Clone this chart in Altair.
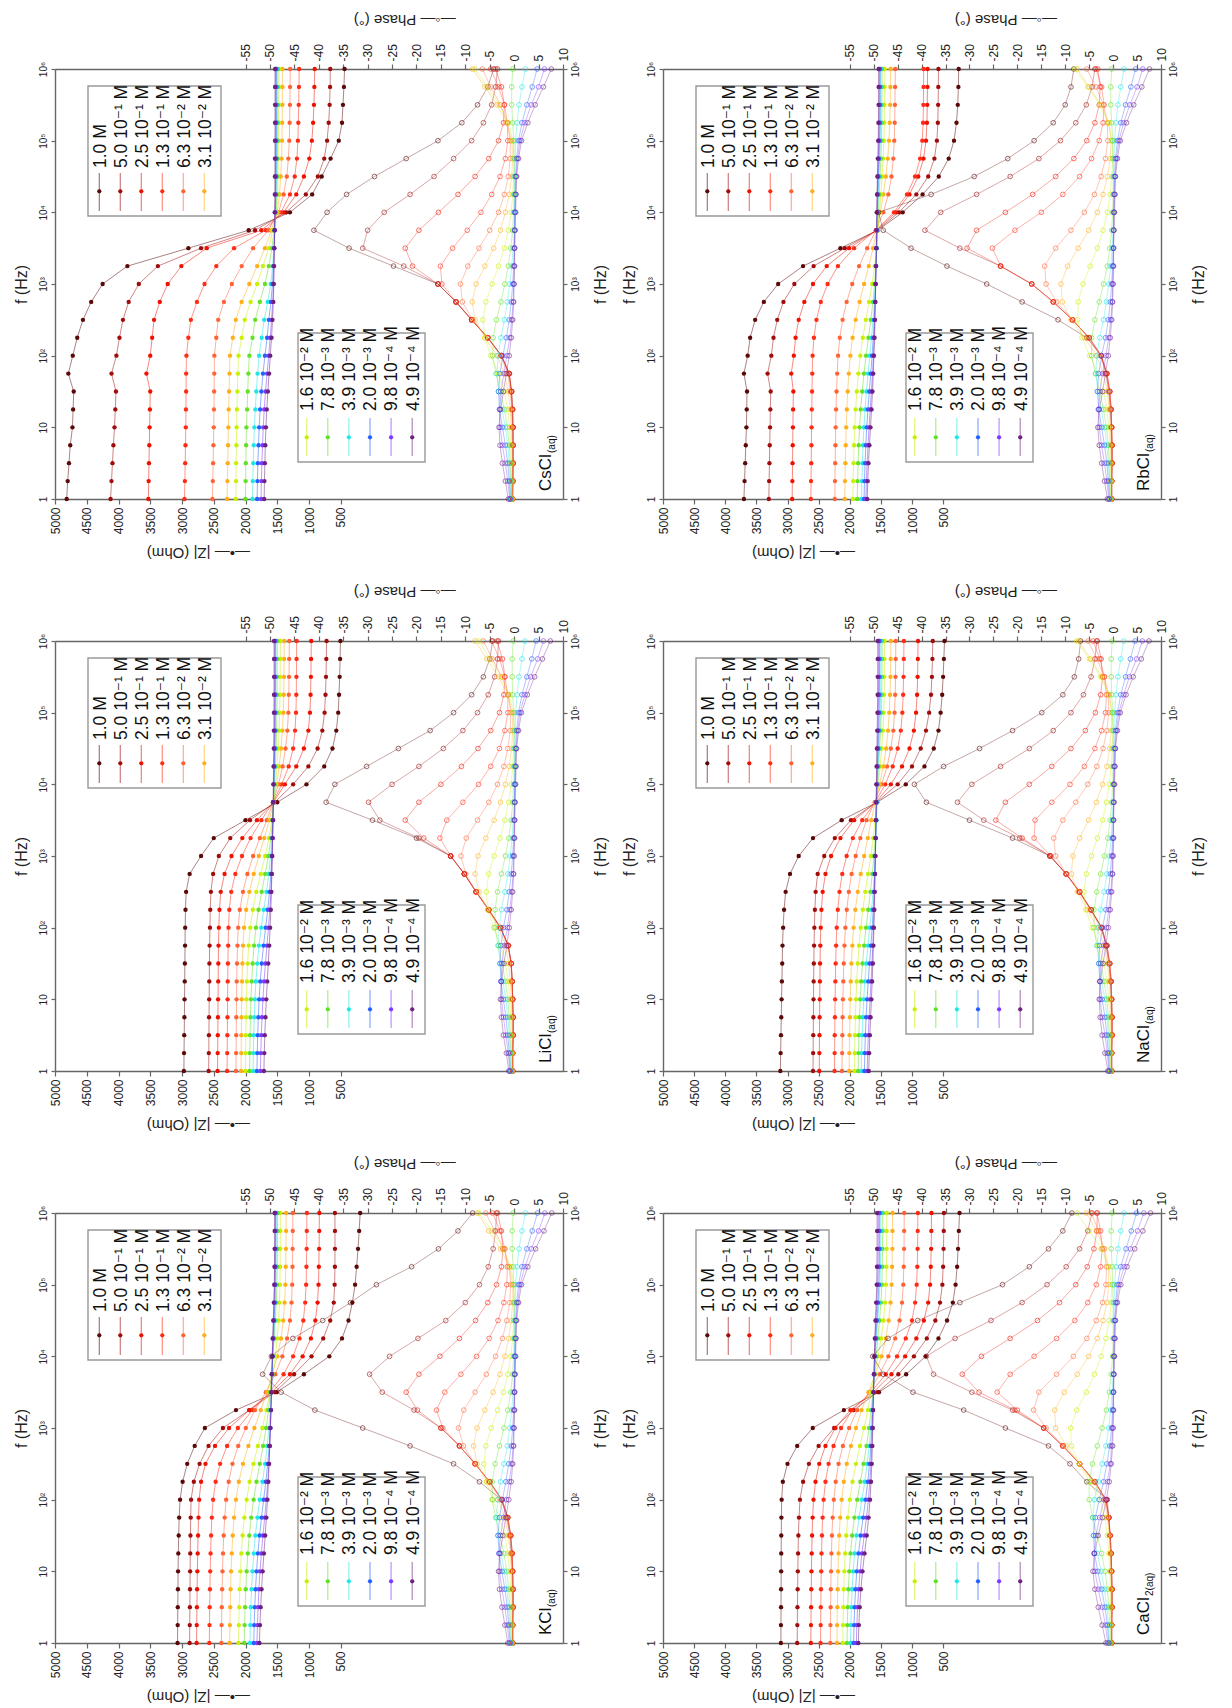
import altair as alt
import pandas as pd

FONT = "Liberation Sans, Arial, DejaVu Sans, sans-serif"

FREQ = [1, 1.778, 3.162, 5.623, 10, 17.78, 31.62, 56.23, 100, 177.8, 316.2, 562.3,
        1000, 1778, 3162, 5623, 10000, 17783, 31623, 56234, 100000, 177828, 316228, 562341, 1000000]

CONC = ["1.0 M", "5.0 10⁻¹ M", "2.5 10⁻¹ M", "1.3 10⁻¹ M", "6.3 10⁻² M", "3.1 10⁻² M",
        "1.6 10⁻² M", "7.8 10⁻³ M", "3.9 10⁻³ M", "2.0 10⁻³ M", "9.8 10⁻⁴ M", "4.9 10⁻⁴ M"]

COLORS = ["#5a0808", "#a00c0c", "#ee1100", "#ff2b14", "#ff6235", "#ffae1a",
          "#c8f000", "#62e022", "#22e6e6", "#2460ff", "#8038ff", "#6c2080"]

# ---------------- CsCl ----------------
CSCL_Z = [
    [4816, 4800, 4780, 4760, 4725, 4715, 4705, 4790, 4720, 4650, 4560, 4430, 4250, 3860, 2900, 1950, 1300, 950, 800, 660, 531, 480, 465, 450, 440],
    [4125, 4110, 4095, 4080, 4063, 4050, 4040, 4110, 4033, 3985, 3930, 3840, 3680, 3380, 2700, 1850, 1360, 1050, 860, 760, 715, 690, 675, 668, 665],
    [3530, 3525, 3520, 3515, 3510, 3505, 3500, 3560, 3500, 3470, 3440, 3350, 3225, 3010, 2610, 1750, 1400, 1200, 1080, 995, 955, 935, 922, 915, 910],
    [2961, 2955, 2950, 2945, 2940, 2938, 2935, 2935, 2930, 2900, 2860, 2765, 2645, 2460, 2180, 1680, 1440, 1300, 1225, 1190, 1175, 1168, 1162, 1158, 1155],
    [2521, 2515, 2510, 2505, 2500, 2497, 2494, 2492, 2490, 2460, 2430, 2340, 2215, 2060, 1880, 1640, 1480, 1400, 1350, 1325, 1310, 1305, 1300, 1298, 1296],
    [2290, 2285, 2280, 2275, 2270, 2265, 2258, 2252, 2245, 2200, 2153, 2061, 1940, 1817, 1694, 1590, 1500, 1465, 1445, 1432, 1425, 1422, 1420, 1419, 1418],
    [2153, 2150, 2147, 2143, 2140, 2135, 2128, 2120, 2110, 2060, 2012, 1920, 1817, 1725, 1633, 1572, 1510, 1495, 1488, 1484, 1480, 1477, 1475, 1472, 1470],
    [2000, 1998, 1995, 1990, 1985, 1975, 1965, 1955, 1939, 1890, 1847, 1774, 1694, 1633, 1584, 1550, 1520, 1508, 1502, 1498, 1495, 1493, 1492, 1491, 1490],
    [1890, 1885, 1878, 1870, 1860, 1845, 1830, 1810, 1786, 1745, 1706, 1651, 1602, 1572, 1555, 1540, 1528, 1520, 1515, 1512, 1510, 1508, 1507, 1506, 1505],
    [1817, 1812, 1805, 1795, 1785, 1770, 1750, 1725, 1694, 1660, 1633, 1600, 1575, 1560, 1550, 1540, 1532, 1525, 1520, 1518, 1517, 1516, 1515, 1515, 1515],
    [1755, 1750, 1742, 1732, 1720, 1705, 1685, 1660, 1635, 1610, 1590, 1572, 1560, 1552, 1546, 1540, 1535, 1530, 1528, 1527, 1526, 1525, 1525, 1525, 1525],
    [1706, 1702, 1695, 1688, 1678, 1665, 1648, 1628, 1610, 1590, 1575, 1562, 1555, 1550, 1546, 1542, 1540, 1538, 1537, 1536, 1536, 1535, 1535, 1535, 1535],
]
CSCL_PH = [
    [-0.5, -0.4, -0.3, -0.3, -0.3, -0.4, -0.6, -1.0, -2.6, -5.4, -8.7, -11.9, -15.6, -24.7, -33.8, -41.0, -38.3, -34.3, -28.6, -22.1, -15.6, -10.7, -7.5, -5.4, -4.2],
    [-0.4, -0.3, -0.2, -0.2, -0.2, -0.3, -0.5, -1.0, -2.6, -5.4, -8.7, -11.9, -15.6, -22.6, -31.0, -30.0, -26.6, -21.3, -16.4, -12.4, -8.7, -6.3, -4.6, -3.8, -3.4],
    [-0.3, -0.2, -0.2, -0.2, -0.2, -0.3, -0.5, -1.0, -2.6, -5.4, -8.7, -11.9, -15.6, -20.8, -22.3, -19.5, -15.5, -11.5, -8.0, -5.2, -3.2, -2.2, -2.0, -2.6, -3.8],
    [-0.3, -0.2, -0.2, -0.2, -0.3, -0.4, -0.6, -1.1, -2.6, -5.4, -8.7, -11.9, -14.8, -15.1, -12.6, -9.6, -6.8, -4.6, -2.9, -1.8, -1.3, -1.4, -2.0, -3.2, -4.8],
    [-0.3, -0.3, -0.3, -0.3, -0.4, -0.5, -0.8, -1.3, -2.8, -5.5, -8.5, -10.6, -11.0, -9.5, -7.2, -5.0, -3.2, -2.0, -1.2, -0.8, -0.8, -1.4, -2.8, -4.8, -6.5],
    [-0.4, -0.4, -0.4, -0.5, -0.6, -0.8, -1.2, -2.0, -3.5, -6.0, -8.0, -8.6, -7.8, -6.0, -4.2, -2.8, -1.8, -1.0, -0.5, -0.3, -0.5, -1.5, -3.5, -6.0, -8.5],
    [-0.5, -0.5, -0.6, -0.7, -0.9, -1.3, -2.0, -3.2, -4.8, -6.0, -6.4, -5.8, -4.5, -3.2, -2.0, -1.2, -0.6, -0.3, -0.1, 0.0, -0.3, -1.2, -3.0, -5.5, -8.0],
    [-0.6, -0.7, -0.8, -1.0, -1.4, -2.0, -2.8, -3.7, -4.4, -4.3, -3.6, -2.7, -1.9, -1.2, -0.7, -0.3, -0.1, 0.0, 0.0, 0.0, -0.1, -0.3, -0.5, -0.5, -0.3],
    [-0.7, -0.8, -1.0, -1.3, -1.8, -2.5, -3.2, -3.5, -3.3, -2.7, -2.0, -1.4, -0.9, -0.5, -0.2, 0.0, 0.1, 0.1, 0.1, 0.2, 0.3, 0.6, 1.0, 1.6, 2.3],
    [-0.8, -1.0, -1.3, -1.8, -2.4, -3.0, -3.2, -2.9, -2.3, -1.6, -1.0, -0.6, -0.3, -0.1, 0.0, 0.1, 0.1, 0.2, 0.3, 0.5, 0.9, 1.6, 2.6, 3.7, 4.7],
    [-0.9, -1.3, -1.8, -2.4, -2.9, -3.0, -2.7, -2.1, -1.5, -0.9, -0.5, -0.2, -0.1, 0.0, 0.1, 0.1, 0.2, 0.3, 0.4, 0.7, 1.2, 2.2, 3.5, 5.0, 6.2],
    [-1.2, -1.8, -2.4, -2.9, -3.1, -2.8, -2.2, -1.6, -1.0, -0.6, -0.3, -0.1, 0.0, 0.1, 0.1, 0.2, 0.3, 0.4, 0.5, 0.9, 1.5, 2.8, 4.3, 6.0, 7.6],
]

# ---------------- RbCl ----------------
RBCL_Z = [
    [3700, 3690, 3680, 3670, 3660, 3655, 3650, 3700, 3640, 3600, 3520, 3380, 3150, 2750, 2150, 1550, 1150, 830, 570, 410, 325, 285, 265, 255, 250],
    [3300, 3295, 3290, 3285, 3280, 3275, 3270, 3320, 3260, 3225, 3165, 3065, 2890, 2580, 2080, 1560, 1210, 930, 740, 640, 600, 585, 580, 577, 575],
    [2925, 2922, 2919, 2916, 2913, 2910, 2906, 2940, 2898, 2870, 2820, 2730, 2590, 2370, 2010, 1570, 1260, 1040, 900, 815, 775, 760, 755, 752, 750],
    [2625, 2622, 2619, 2616, 2613, 2610, 2606, 2602, 2597, 2575, 2535, 2465, 2355, 2190, 1930, 1580, 1290, 1080, 950, 870, 835, 822, 817, 814, 812],
    [2240, 2237, 2234, 2230, 2226, 2220, 2212, 2202, 2188, 2160, 2115, 2050, 1960, 1850, 1720, 1580, 1460, 1380, 1330, 1300, 1285, 1278, 1274, 1271, 1269],
    [2080, 2076, 2071, 2065, 2057, 2047, 2033, 2015, 1990, 1955, 1905, 1842, 1770, 1695, 1625, 1565, 1510, 1460, 1420, 1390, 1370, 1358, 1351, 1347, 1344],
    [1950, 1945, 1939, 1931, 1920, 1906, 1887, 1862, 1830, 1790, 1742, 1690, 1640, 1600, 1570, 1545, 1522, 1500, 1480, 1463, 1452, 1445, 1441, 1439, 1437],
    [1880, 1874, 1866, 1856, 1842, 1824, 1801, 1772, 1738, 1700, 1662, 1627, 1600, 1580, 1565, 1552, 1540, 1527, 1513, 1500, 1491, 1486, 1483, 1481, 1480],
    [1810, 1804, 1796, 1786, 1772, 1754, 1732, 1706, 1678, 1650, 1625, 1605, 1590, 1578, 1568, 1560, 1552, 1543, 1532, 1520, 1510, 1505, 1502, 1501, 1500],
    [1770, 1763, 1754, 1742, 1727, 1708, 1686, 1663, 1641, 1622, 1607, 1595, 1585, 1577, 1570, 1564, 1557, 1550, 1541, 1531, 1522, 1517, 1514, 1513, 1512],
    [1740, 1732, 1721, 1707, 1690, 1671, 1652, 1635, 1620, 1608, 1598, 1590, 1583, 1577, 1572, 1567, 1562, 1556, 1549, 1541, 1534, 1529, 1527, 1526, 1525],
    [1720, 1711, 1699, 1684, 1667, 1650, 1635, 1622, 1611, 1602, 1595, 1589, 1584, 1579, 1575, 1571, 1567, 1562, 1556, 1549, 1543, 1539, 1537, 1536, 1535],
]
RBCL_PH = [
    [-0.3, -0.3, -0.3, -0.3, -0.4, -0.6, -0.9, -1.5, -2.5, -5.5, -11.5, -19.0, -26.4, -34.7, -42.2, -48.0, -49.0, -38.0, -29.0, -22.0, -16.5, -12.5, -10.0, -8.8, -8.2],
    [-0.3, -0.3, -0.2, -0.2, -0.3, -0.4, -0.7, -1.3, -2.5, -5.0, -8.5, -12.5, -17.0, -23.5, -32.0, -39.3, -36.0, -28.5, -21.5, -15.5, -11.0, -7.8, -5.6, -4.4, -3.8],
    [-0.3, -0.3, -0.2, -0.2, -0.3, -0.4, -0.7, -1.3, -2.5, -5.0, -8.5, -12.5, -17.0, -23.5, -30.5, -28.5, -22.5, -16.8, -12.0, -8.2, -5.5, -3.8, -2.9, -2.7, -3.2],
    [-0.3, -0.3, -0.2, -0.2, -0.3, -0.4, -0.7, -1.3, -2.5, -5.0, -8.5, -12.5, -17.0, -23.5, -25.2, -20.5, -15.0, -10.5, -7.0, -4.5, -2.9, -2.1, -1.9, -2.4, -3.6],
    [-0.3, -0.3, -0.3, -0.3, -0.4, -0.5, -0.8, -1.4, -2.7, -5.2, -8.4, -11.8, -14.0, -14.3, -12.0, -8.8, -6.0, -3.9, -2.5, -1.6, -1.1, -1.2, -2.0, -3.6, -5.5],
    [-0.4, -0.4, -0.4, -0.5, -0.6, -0.8, -1.2, -2.0, -3.5, -6.0, -8.8, -10.6, -10.9, -9.5, -7.3, -5.1, -3.3, -2.1, -1.2, -0.6, -0.4, -0.9, -2.5, -5.0, -7.5],
    [-0.5, -0.5, -0.6, -0.7, -0.9, -1.3, -2.0, -3.2, -4.9, -6.5, -7.4, -7.3, -6.3, -4.8, -3.3, -2.1, -1.2, -0.6, -0.3, -0.1, -0.2, -1.0, -2.8, -5.3, -8.0],
    [-0.6, -0.7, -0.8, -1.0, -1.4, -2.0, -2.8, -3.7, -4.5, -4.5, -3.8, -2.9, -2.0, -1.2, -0.7, -0.3, -0.1, 0.0, 0.0, 0.0, -0.1, -0.3, -0.5, -0.5, -0.3],
    [-0.7, -0.8, -1.0, -1.3, -1.8, -2.5, -3.2, -3.6, -3.4, -2.8, -2.0, -1.4, -0.9, -0.5, -0.2, 0.0, 0.1, 0.1, 0.1, 0.2, 0.3, 0.6, 1.0, 1.6, 2.3],
    [-0.8, -1.0, -1.3, -1.8, -2.4, -3.0, -3.3, -3.0, -2.4, -1.6, -1.0, -0.6, -0.3, -0.1, 0.0, 0.1, 0.1, 0.2, 0.3, 0.5, 0.9, 1.6, 2.6, 3.7, 4.7],
    [-0.9, -1.3, -1.8, -2.4, -2.9, -3.1, -2.8, -2.2, -1.5, -0.9, -0.5, -0.2, -0.1, 0.0, 0.1, 0.1, 0.2, 0.3, 0.4, 0.7, 1.2, 2.2, 3.5, 5.0, 6.2],
    [-1.2, -1.8, -2.4, -2.9, -3.2, -2.9, -2.2, -1.6, -1.0, -0.6, -0.3, -0.1, 0.0, 0.1, 0.1, 0.2, 0.3, 0.4, 0.5, 0.9, 1.5, 2.8, 4.3, 6.0, 7.6],
]

# ---------------- LiCl ----------------
LICL_Z = [
    [2970, 2968, 2965, 2962, 2960, 2957, 2955, 2952, 2950, 2945, 2935, 2880, 2700, 2500, 2000, 1500, 1040, 760, 630, 570, 540, 527, 517, 510, 505],
    [2580, 2578, 2576, 2574, 2572, 2570, 2568, 2565, 2560, 2555, 2545, 2510, 2420, 2240, 1930, 1540, 1250, 1010, 865, 790, 755, 740, 732, 727, 723],
    [2440, 2438, 2436, 2434, 2432, 2430, 2428, 2425, 2420, 2410, 2390, 2330, 2220, 2050, 1820, 1560, 1380, 1200, 1080, 1010, 985, 975, 970, 967, 965],
    [2290, 2288, 2286, 2284, 2282, 2280, 2277, 2273, 2268, 2255, 2225, 2160, 2055, 1920, 1750, 1565, 1430, 1320, 1250, 1220, 1205, 1200, 1198, 1196, 1195],
    [2150, 2148, 2146, 2144, 2141, 2138, 2133, 2126, 2115, 2090, 2040, 1970, 1880, 1775, 1665, 1565, 1480, 1415, 1370, 1340, 1325, 1318, 1314, 1312, 1310],
    [2070, 2068, 2066, 2063, 2060, 2055, 2048, 2038, 2022, 1990, 1940, 1870, 1790, 1705, 1625, 1560, 1510, 1470, 1440, 1420, 1405, 1398, 1394, 1392, 1390],
    [2000, 1998, 1995, 1991, 1986, 1978, 1966, 1950, 1925, 1885, 1830, 1760, 1690, 1630, 1585, 1555, 1530, 1505, 1485, 1470, 1462, 1457, 1454, 1452, 1450],
    [1935, 1932, 1928, 1922, 1914, 1903, 1887, 1865, 1835, 1795, 1745, 1690, 1640, 1600, 1575, 1558, 1545, 1530, 1518, 1510, 1505, 1503, 1501, 1500, 1500],
    [1880, 1876, 1870, 1862, 1851, 1836, 1815, 1788, 1752, 1712, 1670, 1635, 1605, 1585, 1570, 1560, 1550, 1540, 1532, 1527, 1524, 1522, 1521, 1520, 1520],
    [1820, 1815, 1808, 1798, 1785, 1768, 1745, 1716, 1683, 1650, 1622, 1600, 1585, 1574, 1566, 1560, 1553, 1546, 1540, 1535, 1532, 1531, 1530, 1530, 1530],
    [1765, 1759, 1751, 1740, 1726, 1708, 1686, 1662, 1638, 1617, 1600, 1588, 1579, 1572, 1566, 1561, 1556, 1551, 1547, 1544, 1542, 1541, 1540, 1540, 1540],
    [1710, 1704, 1696, 1685, 1672, 1657, 1641, 1626, 1612, 1601, 1592, 1585, 1580, 1575, 1570, 1566, 1562, 1558, 1555, 1553, 1552, 1551, 1550, 1550, 1550],
]
LICL_PH = [
    [-0.3, -0.3, -0.2, -0.2, -0.3, -0.4, -0.6, -1.2, -2.8, -5.2, -7.8, -10.2, -13.0, -20.0, -29.0, -38.5, -36.7, -30.2, -23.7, -17.2, -12.4, -8.7, -6.3, -5.0, -4.4],
    [-0.3, -0.3, -0.2, -0.2, -0.3, -0.4, -0.6, -1.2, -2.8, -5.2, -7.8, -10.2, -13.0, -19.5, -27.5, -29.8, -25.0, -19.5, -14.5, -10.5, -7.5, -5.3, -4.0, -3.4, -3.2],
    [-0.3, -0.3, -0.2, -0.2, -0.3, -0.4, -0.6, -1.2, -2.8, -5.2, -7.8, -10.2, -13.0, -18.5, -22.3, -19.5, -15.0, -10.8, -7.4, -4.8, -3.0, -2.1, -1.9, -2.4, -3.5],
    [-0.3, -0.3, -0.2, -0.2, -0.3, -0.4, -0.6, -1.2, -2.8, -5.2, -7.8, -10.2, -13.0, -15.2, -13.8, -10.5, -7.3, -4.8, -3.0, -1.9, -1.3, -1.3, -1.9, -3.0, -4.6],
    [-0.3, -0.3, -0.3, -0.3, -0.4, -0.5, -0.7, -1.3, -2.9, -5.3, -7.8, -9.9, -10.9, -9.8, -7.5, -5.2, -3.4, -2.1, -1.3, -0.8, -0.7, -1.2, -2.5, -4.5, -6.3],
    [-0.4, -0.4, -0.4, -0.5, -0.6, -0.8, -1.1, -1.8, -3.2, -5.4, -7.2, -8.0, -7.4, -5.8, -4.1, -2.8, -1.8, -1.0, -0.5, -0.3, -0.4, -1.3, -3.2, -5.6, -8.0],
    [-0.5, -0.5, -0.6, -0.7, -0.9, -1.2, -1.8, -2.8, -4.2, -5.4, -5.7, -5.2, -4.1, -2.9, -1.9, -1.1, -0.6, -0.3, -0.1, 0.0, -0.2, -1.0, -2.6, -5.0, -7.2],
    [-0.6, -0.7, -0.8, -1.0, -1.3, -1.8, -2.5, -3.3, -3.9, -3.9, -3.4, -2.6, -1.8, -1.1, -0.6, -0.3, -0.1, 0.0, 0.0, 0.0, -0.1, -0.3, -0.4, -0.4, -0.2],
    [-0.7, -0.8, -1.0, -1.3, -1.7, -2.3, -2.9, -3.2, -3.1, -2.6, -1.9, -1.3, -0.8, -0.4, -0.2, 0.0, 0.1, 0.1, 0.1, 0.2, 0.3, 0.6, 1.0, 1.6, 2.2],
    [-0.8, -1.0, -1.3, -1.7, -2.2, -2.7, -2.9, -2.7, -2.2, -1.5, -1.0, -0.6, -0.3, -0.1, 0.0, 0.1, 0.1, 0.2, 0.3, 0.5, 0.9, 1.6, 2.6, 3.6, 4.5],
    [-0.9, -1.2, -1.7, -2.2, -2.6, -2.7, -2.5, -2.0, -1.4, -0.9, -0.5, -0.2, -0.1, 0.0, 0.1, 0.1, 0.2, 0.3, 0.4, 0.7, 1.2, 2.2, 3.4, 4.8, 6.0],
    [-1.1, -1.6, -2.2, -2.6, -2.8, -2.6, -2.1, -1.5, -1.0, -0.6, -0.3, -0.1, 0.0, 0.1, 0.1, 0.2, 0.3, 0.4, 0.5, 0.9, 1.5, 2.7, 4.2, 5.8, 7.4],
]

# ---------------- NaCl ----------------
NACL_Z = [
    [3115, 3110, 3105, 3100, 3095, 3090, 3085, 3080, 3070, 3055, 3030, 2960, 2820, 2590, 2130, 1560, 1100, 800, 650, 575, 540, 515, 500, 488, 478],
    [2590, 2588, 2586, 2584, 2582, 2580, 2577, 2573, 2568, 2560, 2548, 2515, 2410, 2240, 1980, 1570, 1230, 1000, 860, 775, 725, 695, 680, 672, 666],
    [2490, 2488, 2486, 2484, 2482, 2480, 2477, 2473, 2466, 2455, 2435, 2390, 2300, 2150, 1930, 1580, 1340, 1160, 1040, 970, 935, 918, 910, 906, 903],
    [2245, 2243, 2241, 2238, 2235, 2231, 2226, 2219, 2209, 2192, 2165, 2120, 2050, 1950, 1800, 1590, 1430, 1310, 1230, 1180, 1155, 1142, 1136, 1132, 1130],
    [2125, 2122, 2119, 2115, 2110, 2104, 2096, 2085, 2070, 2048, 2015, 1970, 1905, 1830, 1730, 1600, 1490, 1400, 1340, 1300, 1280, 1270, 1265, 1262, 1260],
    [2010, 2007, 2003, 1998, 1992, 1984, 1973, 1958, 1938, 1910, 1872, 1824, 1768, 1710, 1655, 1590, 1520, 1460, 1415, 1385, 1365, 1353, 1346, 1342, 1340],
    [1925, 1921, 1916, 1909, 1900, 1888, 1872, 1851, 1824, 1790, 1750, 1706, 1662, 1623, 1592, 1566, 1540, 1512, 1488, 1468, 1455, 1448, 1444, 1442, 1440],
    [1865, 1860, 1853, 1844, 1832, 1816, 1795, 1769, 1738, 1703, 1668, 1637, 1612, 1592, 1577, 1565, 1553, 1538, 1521, 1505, 1493, 1486, 1482, 1481, 1480],
    [1815, 1809, 1801, 1790, 1776, 1758, 1735, 1708, 1679, 1650, 1625, 1605, 1590, 1579, 1570, 1562, 1554, 1544, 1532, 1520, 1510, 1505, 1502, 1501, 1500],
    [1765, 1758, 1749, 1737, 1722, 1703, 1682, 1660, 1640, 1623, 1610, 1599, 1590, 1582, 1575, 1569, 1562, 1554, 1545, 1536, 1528, 1524, 1522, 1521, 1520],
    [1720, 1712, 1702, 1689, 1674, 1658, 1643, 1630, 1619, 1610, 1602, 1595, 1589, 1583, 1578, 1573, 1567, 1561, 1554, 1547, 1541, 1538, 1536, 1535, 1535],
    [1695, 1687, 1677, 1665, 1652, 1640, 1629, 1620, 1612, 1605, 1599, 1594, 1589, 1585, 1581, 1577, 1573, 1569, 1564, 1559, 1555, 1552, 1551, 1550, 1550],
]
NACL_PH = [
    [-0.3, -0.3, -0.3, -0.3, -0.4, -0.6, -0.9, -1.5, -2.4, -4.6, -7.0, -9.8, -13.2, -21.0, -30.0, -39.0, -41.5, -35.4, -27.9, -21.0, -14.9, -10.5, -8.1, -7.2, -6.8],
    [-0.3, -0.3, -0.2, -0.2, -0.3, -0.4, -0.7, -1.3, -2.4, -4.6, -7.0, -9.8, -13.2, -19.5, -27.0, -32.5, -29.5, -23.5, -17.5, -12.5, -8.8, -6.2, -4.6, -3.8, -3.4],
    [-0.3, -0.3, -0.2, -0.2, -0.3, -0.4, -0.7, -1.3, -2.4, -4.6, -7.0, -9.8, -13.2, -19.0, -24.5, -22.5, -17.5, -12.8, -8.8, -5.8, -3.7, -2.6, -2.2, -2.5, -3.3],
    [-0.3, -0.3, -0.2, -0.2, -0.3, -0.4, -0.7, -1.3, -2.4, -4.6, -7.0, -9.8, -13.0, -16.5, -16.3, -12.8, -9.0, -6.0, -3.8, -2.4, -1.6, -1.4, -1.8, -2.8, -4.2],
    [-0.3, -0.3, -0.3, -0.3, -0.4, -0.5, -0.8, -1.4, -2.6, -4.8, -7.2, -9.8, -12.0, -12.4, -10.5, -7.8, -5.3, -3.4, -2.1, -1.3, -0.9, -1.0, -1.8, -3.4, -5.2],
    [-0.4, -0.4, -0.4, -0.5, -0.6, -0.8, -1.2, -1.9, -3.3, -5.4, -7.5, -8.7, -8.4, -7.0, -5.1, -3.5, -2.2, -1.3, -0.7, -0.4, -0.3, -0.8, -2.3, -4.7, -7.2],
    [-0.5, -0.5, -0.6, -0.7, -0.9, -1.3, -1.9, -3.0, -4.4, -5.7, -6.1, -5.6, -4.5, -3.3, -2.2, -1.4, -0.8, -0.4, -0.2, 0.0, -0.2, -0.9, -2.6, -5.0, -7.6],
    [-0.6, -0.7, -0.8, -1.0, -1.3, -1.9, -2.6, -3.4, -4.0, -4.0, -3.4, -2.6, -1.8, -1.1, -0.6, -0.3, -0.1, 0.0, 0.0, 0.0, -0.1, -0.3, -0.4, -0.4, -0.2],
    [-0.7, -0.8, -1.0, -1.3, -1.7, -2.4, -3.0, -3.3, -3.1, -2.6, -1.9, -1.3, -0.8, -0.4, -0.2, 0.0, 0.1, 0.1, 0.1, 0.2, 0.3, 0.6, 1.0, 1.6, 2.2],
    [-0.8, -1.0, -1.3, -1.7, -2.3, -2.8, -3.0, -2.8, -2.2, -1.5, -1.0, -0.6, -0.3, -0.1, 0.0, 0.1, 0.1, 0.2, 0.3, 0.5, 0.9, 1.6, 2.6, 3.6, 4.6],
    [-0.9, -1.2, -1.7, -2.3, -2.7, -2.8, -2.6, -2.0, -1.4, -0.9, -0.5, -0.2, -0.1, 0.0, 0.1, 0.1, 0.2, 0.3, 0.4, 0.7, 1.2, 2.2, 3.4, 4.9, 6.1],
    [-1.1, -1.7, -2.3, -2.7, -2.9, -2.7, -2.1, -1.5, -1.0, -0.6, -0.3, -0.1, 0.0, 0.1, 0.1, 0.2, 0.3, 0.4, 0.5, 0.9, 1.5, 2.7, 4.2, 5.9, 7.5],
]

# ---------------- KCl ----------------
KCL_Z = [
    [3070, 3068, 3066, 3064, 3062, 3058, 3052, 3045, 3030, 2990, 2918, 2800, 2640, 2150, 1510, 1080, 680, 480, 378, 317, 274, 250, 228, 210, 194],
    [2880, 2878, 2876, 2874, 2872, 2870, 2867, 2863, 2857, 2814, 2723, 2582, 2355, 1940, 1540, 1235, 960, 776, 666, 610, 596, 592, 591, 591, 592],
    [2770, 2768, 2765, 2762, 2758, 2753, 2747, 2740, 2730, 2700, 2630, 2480, 2260, 1940, 1590, 1300, 1100, 970, 900, 865, 850, 845, 841, 839, 837],
    [2570, 2567, 2564, 2560, 2556, 2550, 2542, 2530, 2510, 2470, 2400, 2290, 2120, 1890, 1620, 1400, 1250, 1150, 1090, 1060, 1045, 1040, 1037, 1035, 1033],
    [2380, 2377, 2373, 2368, 2362, 2354, 2343, 2328, 2305, 2265, 2205, 2115, 1995, 1850, 1680, 1530, 1420, 1345, 1300, 1275, 1265, 1260, 1258, 1256, 1255],
    [2250, 2246, 2241, 2235, 2227, 2216, 2201, 2180, 2150, 2105, 2040, 1955, 1860, 1760, 1660, 1580, 1500, 1440, 1405, 1385, 1372, 1366, 1363, 1361, 1360],
    [2110, 2105, 2099, 2091, 2080, 2065, 2045, 2018, 1982, 1935, 1875, 1805, 1735, 1670, 1615, 1570, 1530, 1500, 1478, 1465, 1458, 1454, 1452, 1451, 1450],
    [2020, 2014, 2006, 1996, 1982, 1964, 1940, 1910, 1872, 1826, 1775, 1722, 1675, 1638, 1610, 1588, 1568, 1548, 1530, 1515, 1505, 1500, 1497, 1496, 1495],
    [1930, 1924, 1916, 1905, 1890, 1870, 1845, 1813, 1775, 1733, 1692, 1657, 1630, 1610, 1595, 1582, 1570, 1556, 1542, 1530, 1522, 1518, 1516, 1515, 1515],
    [1870, 1863, 1854, 1842, 1826, 1805, 1779, 1748, 1714, 1680, 1650, 1627, 1610, 1598, 1589, 1580, 1572, 1562, 1550, 1540, 1532, 1528, 1526, 1525, 1525],
    [1820, 1812, 1802, 1789, 1772, 1750, 1725, 1698, 1672, 1650, 1632, 1618, 1607, 1598, 1590, 1583, 1576, 1567, 1557, 1548, 1541, 1538, 1536, 1535, 1535],
    [1780, 1772, 1761, 1747, 1730, 1710, 1690, 1671, 1654, 1640, 1628, 1618, 1609, 1601, 1594, 1587, 1580, 1572, 1563, 1554, 1547, 1543, 1541, 1540, 1540],
]
KCL_PH = [
    [-0.3, -0.3, -0.3, -0.3, -0.4, -0.6, -0.9, -1.5, -2.6, -7.1, -12.4, -21.3, -31.0, -40.8, -47.7, -51.5, -49.7, -45.3, -39.2, -33.5, -28.2, -21.0, -15.5, -11.5, -8.5],
    [-0.3, -0.3, -0.2, -0.2, -0.3, -0.4, -0.7, -1.3, -2.5, -5.0, -8.0, -11.2, -15.0, -20.5, -27.0, -29.6, -25.5, -19.7, -14.0, -10.0, -7.1, -5.3, -4.3, -3.8, -3.6],
    [-0.3, -0.3, -0.2, -0.2, -0.3, -0.4, -0.7, -1.3, -2.5, -5.0, -8.0, -11.2, -15.0, -19.8, -22.1, -19.5, -15.2, -11.2, -7.9, -5.4, -3.6, -2.6, -2.3, -2.6, -3.4],
    [-0.3, -0.3, -0.2, -0.2, -0.3, -0.4, -0.7, -1.3, -2.5, -5.0, -8.0, -11.2, -14.6, -15.9, -14.2, -10.9, -7.7, -5.1, -3.3, -2.1, -1.5, -1.4, -1.9, -2.9, -4.4],
    [-0.3, -0.3, -0.3, -0.3, -0.4, -0.5, -0.8, -1.4, -2.7, -5.2, -8.0, -10.4, -11.4, -10.3, -8.0, -5.7, -3.8, -2.4, -1.5, -0.9, -0.7, -1.0, -2.1, -4.0, -5.8],
    [-0.4, -0.4, -0.4, -0.5, -0.6, -0.8, -1.2, -1.9, -3.3, -5.6, -7.6, -8.3, -7.6, -6.0, -4.3, -2.9, -1.9, -1.1, -0.6, -0.3, -0.3, -1.0, -2.8, -5.2, -7.5],
    [-0.5, -0.5, -0.6, -0.7, -0.9, -1.3, -1.9, -3.0, -4.4, -5.7, -6.2, -5.8, -4.7, -3.4, -2.2, -1.3, -0.7, -0.3, -0.1, 0.0, -0.1, -0.7, -2.2, -4.6, -7.2],
    [-0.6, -0.7, -0.9, -1.1, -1.5, -2.1, -2.9, -3.8, -4.5, -4.5, -3.9, -3.0, -2.1, -1.3, -0.7, -0.3, -0.1, 0.0, 0.0, 0.0, -0.1, -0.2, -0.4, -0.4, -0.2],
    [-0.7, -0.9, -1.1, -1.5, -2.0, -2.7, -3.3, -3.6, -3.4, -2.8, -2.1, -1.4, -0.9, -0.5, -0.2, 0.0, 0.1, 0.1, 0.1, 0.2, 0.3, 0.6, 1.0, 1.6, 2.3],
    [-0.8, -1.1, -1.4, -1.9, -2.5, -3.1, -3.3, -3.0, -2.4, -1.7, -1.1, -0.6, -0.3, -0.1, 0.0, 0.1, 0.1, 0.2, 0.3, 0.5, 0.9, 1.6, 2.6, 3.7, 4.8],
    [-1.0, -1.4, -1.9, -2.5, -3.0, -3.1, -2.8, -2.2, -1.6, -1.0, -0.5, -0.2, -0.1, 0.0, 0.1, 0.1, 0.2, 0.3, 0.4, 0.7, 1.2, 2.2, 3.5, 5.0, 6.3],
    [-1.3, -1.9, -2.5, -3.0, -3.2, -2.9, -2.3, -1.7, -1.1, -0.6, -0.3, -0.1, 0.0, 0.1, 0.1, 0.2, 0.3, 0.4, 0.5, 0.9, 1.5, 2.8, 4.4, 6.1, 7.7],
]

# ---------------- CaCl2 ----------------
CACL2_Z = [
    [3106, 3105, 3104, 3103, 3102, 3101, 3100, 3098, 3094, 3075, 3000, 2844, 2594, 2094, 1531, 1094, 781, 575, 437, 344, 300, 275, 260, 248, 237],
    [2844, 2842, 2840, 2837, 2834, 2830, 2825, 2815, 2800, 2750, 2656, 2500, 2250, 1937, 1550, 1219, 969, 762, 625, 550, 512, 500, 493, 490, 487],
    [2625, 2623, 2621, 2618, 2615, 2611, 2605, 2596, 2582, 2550, 2490, 2390, 2230, 1990, 1620, 1330, 1110, 930, 810, 740, 710, 698, 692, 689, 687],
    [2469, 2467, 2465, 2462, 2458, 2453, 2446, 2436, 2420, 2390, 2340, 2260, 2140, 1960, 1660, 1420, 1240, 1100, 1000, 950, 925, 915, 910, 908, 906],
    [2312, 2310, 2307, 2304, 2300, 2294, 2286, 2274, 2256, 2226, 2180, 2110, 2010, 1880, 1690, 1520, 1380, 1270, 1200, 1160, 1140, 1132, 1128, 1126, 1125],
    [2206, 2203, 2199, 2194, 2188, 2180, 2169, 2153, 2130, 2096, 2048, 1982, 1900, 1810, 1700, 1590, 1490, 1420, 1375, 1345, 1328, 1320, 1316, 1314, 1312],
    [2112, 2108, 2103, 2096, 2087, 2074, 2056, 2032, 1999, 1956, 1900, 1836, 1770, 1710, 1655, 1600, 1545, 1495, 1458, 1432, 1418, 1411, 1408, 1407, 1406],
    [2044, 2039, 2032, 2022, 2008, 1988, 1961, 1925, 1880, 1830, 1779, 1730, 1690, 1656, 1628, 1602, 1576, 1548, 1522, 1500, 1485, 1477, 1473, 1471, 1470],
    [1988, 1982, 1974, 1962, 1945, 1922, 1890, 1850, 1805, 1760, 1720, 1688, 1662, 1640, 1622, 1606, 1590, 1571, 1550, 1530, 1515, 1507, 1503, 1501, 1500],
    [1938, 1931, 1921, 1907, 1887, 1860, 1825, 1785, 1745, 1710, 1682, 1661, 1644, 1630, 1618, 1607, 1595, 1581, 1564, 1546, 1532, 1525, 1522, 1521, 1520],
    [1894, 1886, 1874, 1857, 1834, 1804, 1768, 1731, 1700, 1677, 1660, 1647, 1636, 1627, 1619, 1611, 1602, 1592, 1579, 1564, 1552, 1545, 1542, 1541, 1540],
    [1862, 1853, 1840, 1821, 1795, 1762, 1727, 1697, 1674, 1658, 1646, 1637, 1630, 1624, 1618, 1612, 1605, 1597, 1587, 1576, 1567, 1563, 1561, 1560, 1560],
]
CACL2_PH = [
    [-0.3, -0.3, -0.3, -0.3, -0.4, -0.5, -0.7, -0.9, -1.2, -5.5, -9.0, -13.5, -22.5, -31.2, -41.8, -48.0, -50.2, -47.0, -40.8, -32.0, -23.1, -17.5, -13.5, -10.5, -8.6],
    [-0.3, -0.3, -0.2, -0.2, -0.3, -0.4, -0.6, -0.9, -1.5, -3.8, -7.0, -10.5, -14.5, -21.0, -29.5, -37.5, -39.0, -33.0, -25.5, -19.0, -13.8, -9.8, -7.0, -5.3, -4.4],
    [-0.3, -0.3, -0.2, -0.2, -0.3, -0.4, -0.6, -0.9, -1.5, -3.8, -7.0, -10.5, -14.5, -20.5, -28.0, -31.5, -27.5, -21.5, -15.8, -11.2, -7.8, -5.4, -4.0, -3.4, -3.3],
    [-0.3, -0.3, -0.2, -0.2, -0.3, -0.4, -0.6, -0.9, -1.5, -3.8, -7.0, -10.5, -14.5, -20.0, -24.2, -21.5, -16.5, -11.8, -8.0, -5.3, -3.5, -2.6, -2.3, -2.6, -3.4],
    [-0.3, -0.3, -0.3, -0.3, -0.4, -0.5, -0.7, -1.0, -1.7, -4.0, -7.0, -10.4, -14.0, -16.6, -15.5, -11.8, -8.3, -5.5, -3.5, -2.2, -1.5, -1.4, -1.9, -3.0, -4.6],
    [-0.4, -0.4, -0.4, -0.4, -0.5, -0.6, -0.8, -1.2, -2.0, -4.2, -7.0, -9.8, -12.0, -12.2, -10.2, -7.5, -5.1, -3.3, -2.1, -1.3, -0.9, -1.0, -1.8, -3.5, -5.6],
    [-0.5, -0.5, -0.5, -0.6, -0.7, -0.9, -1.2, -1.7, -2.8, -4.9, -7.1, -8.7, -8.9, -7.6, -5.6, -3.9, -2.5, -1.5, -0.8, -0.4, -0.3, -0.9, -2.5, -5.0, -7.5],
    [-0.6, -0.7, -0.9, -1.2, -1.7, -2.4, -3.3, -4.3, -5.0, -5.0, -4.3, -3.3, -2.3, -1.4, -0.8, -0.4, -0.1, 0.0, 0.0, 0.0, -0.1, -0.2, -0.4, -0.4, -0.2],
    [-0.8, -1.0, -1.3, -1.8, -2.5, -3.3, -4.0, -4.2, -3.9, -3.1, -2.3, -1.5, -0.9, -0.5, -0.2, 0.0, 0.1, 0.1, 0.1, 0.2, 0.3, 0.6, 1.0, 1.6, 2.3],
    [-0.9, -1.2, -1.7, -2.4, -3.2, -3.9, -4.1, -3.7, -2.9, -2.0, -1.3, -0.7, -0.3, -0.1, 0.0, 0.1, 0.1, 0.2, 0.3, 0.5, 0.9, 1.6, 2.7, 3.8, 4.9],
    [-1.1, -1.6, -2.3, -3.1, -3.8, -4.0, -3.6, -2.8, -1.9, -1.2, -0.6, -0.3, -0.1, 0.0, 0.1, 0.1, 0.2, 0.3, 0.4, 0.7, 1.2, 2.3, 3.6, 5.1, 6.4],
    [-1.5, -2.3, -3.1, -3.8, -4.2, -3.9, -3.1, -2.2, -1.4, -0.8, -0.4, -0.1, 0.0, 0.1, 0.1, 0.2, 0.3, 0.4, 0.5, 0.9, 1.6, 2.9, 4.5, 6.2, 7.8],
]

PANELS = [
    ("CsCl", "(aq)", CSCL_Z, CSCL_PH),
    ("RbCl", "(aq)", RBCL_Z, RBCL_PH),
    ("LiCl", "(aq)", LICL_Z, LICL_PH),
    ("NaCl", "(aq)", NACL_Z, NACL_PH),
    ("KCl", "(aq)", KCL_Z, KCL_PH),
    ("CaCl", "2(aq)", CACL2_Z, CACL2_PH),
]

# ---------------- layout constants ----------------
H = 430
WIDTHS = [508, 498]
Z_DOMAIN = [5000, -3000]
PH_DOMAIN = [-94, 10]
LABEL_W = {"CsCl": 37, "RbCl": 38, "LiCl": 29, "NaCl": 38, "KCl": 27, "CaCl": 38}

AX = dict(domainColor="#666", domainWidth=1.4, tickColor="#666", tickWidth=1.2,
          labelColor="#222", titleColor="#222", labelFont=FONT, titleFont=FONT,
          titleFontWeight="normal", grid=False, labelOverlap=False)

FREQ_LABELS = ("datum.value < 5 ? '1' : datum.value < 50 ? '10' : datum.value < 500 ? '10²' : "
               "datum.value < 5000 ? '10³' : datum.value < 50000 ? '10⁴' : "
               "datum.value < 500000 ? '10⁵' : '10⁶'")
FREQ_TICKS = [1, 10, 100, 1000, 10000, 100000, 1000000]
Z_TICKS = [500, 1000, 1500, 2000, 2500, 3000, 3500, 4000, 4500, 5000]
PH_TICKS = [-55, -50, -45, -40, -35, -30, -25, -20, -15, -10, -5, 0, 5, 10]


def make_panel(name, sub, zv, pv, W):
    rows = []
    for i, c in enumerate(CONC):
        for j, f in enumerate(FREQ):
            rows.append({"f": f, "z": zv[i][j], "ph": pv[i][j], "c": c, "k": j})
    df = pd.DataFrame(rows)

    col = alt.Color("c:N", scale=alt.Scale(domain=CONC, range=COLORS), legend=None)

    z_title_x = (4500 / 8000) * W / 2
    ph_px = W / (PH_DOMAIN[1] - PH_DOMAIN[0])
    ph_title_x = W - 65 * ph_px / 2

    zx = alt.X("z:Q", scale=alt.Scale(domain=Z_DOMAIN, nice=False, zero=False),
               axis=alt.Axis(orient="bottom", values=Z_TICKS, labelExpr="'' + datum.value",
                             labelAngle=270, labelAlign="right", labelBaseline="middle",
                             labelFontSize=12, labelPadding=3, tickSize=5,
                             title="—•—  |Z| (Ohm)", titleAngle=180, titleFontSize=15,
                             titleX=z_title_x, titleY=53, titleAlign="center",
                             titleBaseline="middle", **AX))
    zy = alt.Y("f:Q", scale=alt.Scale(type="log", domain=[1, 1e6], nice=False),
               axis=alt.Axis(orient="left", values=FREQ_TICKS, labelExpr=FREQ_LABELS,
                             labelAngle=270, labelAlign="center", labelBaseline="bottom",
                             labelFontSize=10, labelPadding=3, tickSize=4,
                             title="f (Hz)", titleAngle=270, titleFontSize=16,
                             titleX=-34, titleY=H / 2, titleAlign="center",
                             titleBaseline="middle", **AX))
    px = alt.X("ph:Q", scale=alt.Scale(domain=PH_DOMAIN, nice=False, zero=False),
               axis=alt.Axis(orient="top", values=PH_TICKS, labelExpr="'' + datum.value",
                             labelAngle=270, labelAlign="left", labelBaseline="middle",
                             labelFontSize=12, labelPadding=3, tickSize=5,
                             title="—◦—  Phase (°)", titleAngle=180, titleFontSize=15,
                             titleX=ph_title_x, titleY=-50, titleAlign="center",
                             titleBaseline="middle", **AX))
    py = alt.Y("f:Q", scale=alt.Scale(type="log", domain=[1, 1e6], nice=False),
               axis=alt.Axis(orient="right", values=FREQ_TICKS, labelExpr=FREQ_LABELS,
                             labelAngle=270, labelAlign="center", labelBaseline="top",
                             labelFontSize=10, labelPadding=3, tickSize=4,
                             title="f (Hz)", titleAngle=270, titleFontSize=16,
                             titleX=37, titleY=H / 2, titleAlign="center",
                             titleBaseline="middle", **AX))

    base = alt.Chart(df)
    zl = base.mark_line(strokeWidth=1, opacity=0.5).encode(x=zx, y=zy, color=col, order=alt.Order("k:Q"))
    zp = base.mark_circle(size=19, opacity=1).encode(x=zx, y=zy, color=col)
    pl = base.mark_line(strokeWidth=0.8, opacity=0.45).encode(x=px, y=py, color=col, order=alt.Order("k:Q"))
    pp = base.mark_point(filled=False, size=22, strokeWidth=0.8, opacity=0.75).encode(x=px, y=py, color=col)

    zlayer = alt.layer(zl, zp)
    player = alt.layer(pl, pp)

    # legend boxes
    box_df = pd.DataFrame({"x1": [33, 243], "x2": [166, 370], "y1": [17, 264], "y2": [147, 393]})
    boxes = alt.Chart(box_df).mark_rect(fill="white", stroke="#999", strokeWidth=1.4).encode(
        x=alt.X("x1:Q", scale=None), x2="x2:Q", y=alt.Y("y1:Q", scale=None), y2="y2:Q")

    leg_rows = []
    for i, c in enumerate(CONC):
        if i < 6:
            lx = 44.3 + 21.0 * i
            y1, y2, yd, ty = 104, 142, 122.3, 99
        else:
            lx = 251.7 + 21.1 * (i - 6)
            y1, y2, yd, ty = 349, 387, 368.3, 342
        leg_rows.append({"lx": lx, "y1": y1, "y2": y2, "yd": yd, "tx": lx + 1.3, "ty": ty, "c": c})
    leg_df = pd.DataFrame(leg_rows)
    lrule = alt.Chart(leg_df).mark_rule(strokeWidth=1.2, opacity=0.55).encode(
        x=alt.X("lx:Q", scale=None), y=alt.Y("y1:Q", scale=None), y2="y2:Q", color=col)
    ldot = alt.Chart(leg_df).mark_circle(size=18, opacity=1).encode(
        x=alt.X("lx:Q", scale=None), y=alt.Y("yd:Q", scale=None), color=col)
    ltext = alt.Chart(leg_df).mark_text(angle=270, align="left", baseline="middle",
                                        fontSize=17.5, font=FONT, color="#111").encode(
        x=alt.X("tx:Q", scale=None), y=alt.Y("ty:Q", scale=None), text="c:N")

    lab_df = pd.DataFrame({"x": [W - 17, W - 11], "y": [422, 422 - LABEL_W[name] - 1],
                           "t": [name, sub]})
    lab_main = alt.Chart(lab_df.iloc[[0]]).mark_text(angle=270, align="left", baseline="middle",
                                                    fontSize=17, font=FONT, color="#111").encode(
        x=alt.X("x:Q", scale=None), y=alt.Y("y:Q", scale=None), text="t:N")
    lab_sub = alt.Chart(lab_df.iloc[[1]]).mark_text(angle=270, align="left", baseline="middle",
                                                   fontSize=10, font=FONT, color="#111").encode(
        x=alt.X("x:Q", scale=None), y=alt.Y("y:Q", scale=None), text="t:N")

    return alt.layer(zlayer, player, boxes, lrule, ldot, ltext, lab_main, lab_sub).resolve_scale(
        x="independent", y="independent").properties(width=W, height=H)


charts = []
for idx, (name, sub, zv, pv) in enumerate(PANELS):
    charts.append(make_panel(name, sub, zv, pv, WIDTHS[idx % 2]))

chart = alt.concat(*charts, columns=2, spacing={"row": 142, "column": 100}, bounds="flush").properties(
    padding={"left": 4, "top": 2, "right": 4, "bottom": 0}
).configure_view(stroke="#666", strokeWidth=1.4).configure(font=FONT)

chart.save("out.html", embed_options={"renderer": "svg", "actions": False})
